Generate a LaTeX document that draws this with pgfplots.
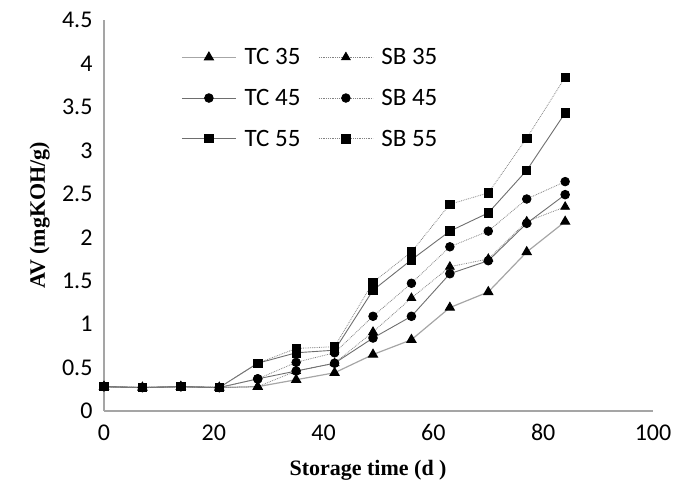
\documentclass[border=0pt]{standalone}
\usepackage{fontspec}
\setmainfont{Carlito}
\newfontfamily\tnr{Liberation Serif}
\usepackage{pgfplots}
\pgfplotsset{compat=1.18}

\definecolor{axgray}{RGB}{165,165,165}
\definecolor{tcline}{RGB}{110,110,110}
\definecolor{sbline}{RGB}{130,130,130}

\pgfplotstableread{
day  tc35 sb35 tc45 sb45 tc55 sb55
0    0.28 0.28 0.28 0.28 0.28 0.28
7    0.27 0.27 0.27 0.27 0.27 0.27
14   0.28 0.28 0.28 0.28 0.28 0.28
21   0.27 0.27 0.27 0.27 0.27 0.27
28   0.28 0.28 0.37 0.37 0.55 0.55
35   0.36 0.46 0.46 0.56 0.67 0.72
42   0.44 0.55 0.55 0.67 0.70 0.74
49   0.65 0.91 0.84 1.09 1.39 1.48
56   0.82 1.30 1.09 1.47 1.74 1.83
63   1.19 1.66 1.58 1.89 2.07 2.38
70   1.37 1.75 1.73 2.07 2.28 2.51
77   1.83 2.18 2.16 2.44 2.77 3.14
84   2.18 2.35 2.49 2.64 3.43 3.84
}\avdata

\begin{document}
\begin{tikzpicture}
\begin{axis}[
    scale only axis,
    width=549pt, height=391pt,
    xmin=0, xmax=100, ymin=0, ymax=4.5,
    xtick={0,20,...,100},
    ytick={0,0.5,...,4.5},
    axis x line=bottom, axis y line=left,
    axis line style={-, axgray, line width=1.4pt},
    major tick length=0pt,
    clip=false,
    font=\fontsize{24}{28}\selectfont,
    /pgf/number format/assume math mode=true,
    /pgf/number format/fixed,
    yticklabel style={xshift=-8pt},
    xticklabel style={yshift=-10pt},
    xlabel={\tnr\bfseries Storage time (d )},
    ylabel={\tnr\bfseries AV (mgKOH/g)},
    xlabel style={at={(axis description cs:0.481,-0.151)}, anchor=center, font=\fontsize{22}{24}\selectfont},
    ylabel style={at={(axis description cs:-0.117,0.5)}, anchor=center, font=\fontsize{22}{24}\selectfont},
    legend columns=2,
    legend style={draw=none, fill=none, at={(axis description cs:0.135,0.938)}, anchor=north west,
        font=\fontsize{25}{28}\selectfont, row sep=19pt,
        /tikz/every odd column/.append style={column sep=6pt},
        /tikz/every even column/.append style={column sep=16pt}},
    legend image code/.code={
        \draw[mark repeat=2, mark phase=2] plot coordinates {(0pt,0pt) (27pt,0pt) (54pt,0pt)};
    },
    every axis plot/.append style={mark options={solid, fill=black, draw=black}},
]
\addplot[color=gray!70, line width=1.2pt, mark=triangle*, mark size=5pt] table[x=day, y=tc35] {\avdata};
\addlegendentry{TC 35}
\addplot[color=sbline, densely dotted, line width=0.8pt, mark=triangle*, mark size=5pt] table[x=day, y=sb35] {\avdata};
\addlegendentry{SB 35}
\addplot[color=tcline, line width=0.9pt, mark=*, mark size=4.3pt] table[x=day, y=tc45] {\avdata};
\addlegendentry{TC 45}
\addplot[color=sbline, densely dotted, line width=0.8pt, mark=*, mark size=4.3pt] table[x=day, y=sb45] {\avdata};
\addlegendentry{SB 45}
\addplot[color=tcline, line width=0.9pt, mark=square*, mark size=4.2pt] table[x=day, y=tc55] {\avdata};
\addlegendentry{TC 55}
\addplot[color=sbline, densely dotted, line width=0.8pt, mark=square*, mark size=4.2pt] table[x=day, y=sb55] {\avdata};
\addlegendentry{SB 55}
\path (rel axis cs:0,0) ++(-104pt,-86pt) rectangle ++(677pt,497pt);
\end{axis}
\end{tikzpicture}
\end{document}
